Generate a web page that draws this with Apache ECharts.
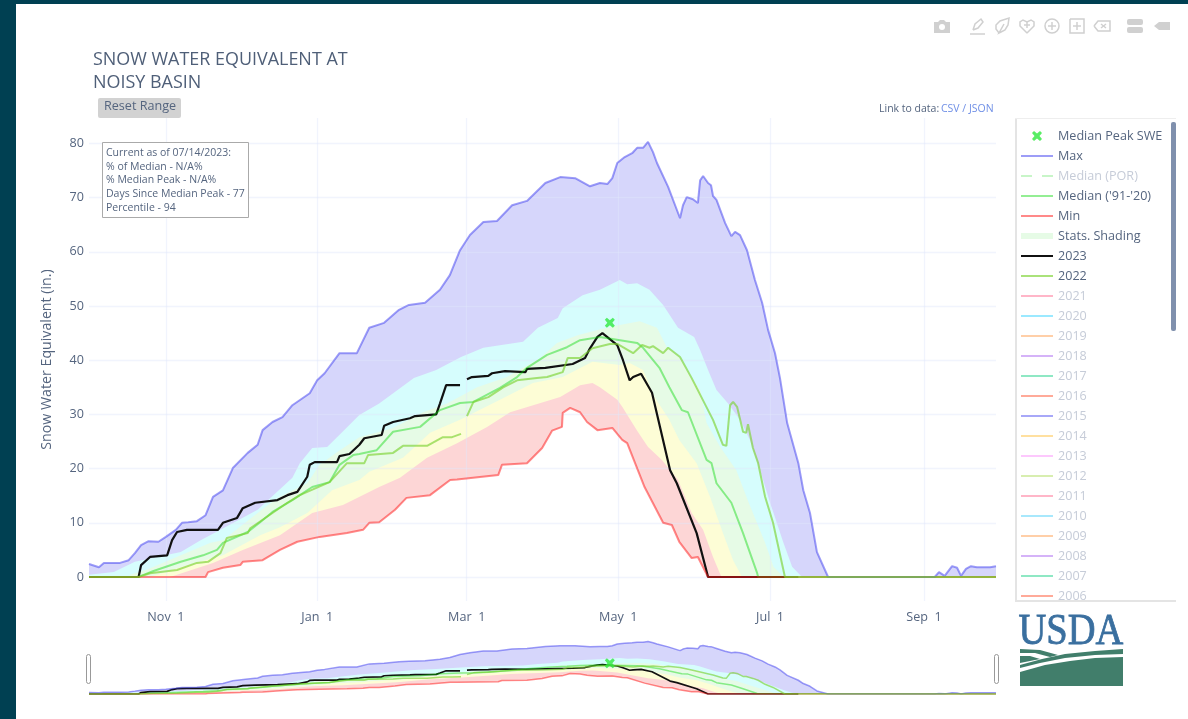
<!DOCTYPE html>
<html><head><meta charset="utf-8">
<style>html,body{margin:0;padding:0;background:#fff;overflow:hidden}#c{width:1188px;height:719px}</style>
<script src="https://cdn.jsdelivr.net/npm/echarts@6/dist/echarts.min.js"></script>
</head><body><div id="c"></div>
<script>
// Values: [day of water year (0 = Oct 1), snow water equivalent in inches]
const maxLine=[[0,2.4],[4,1.8],[6,2.6],[12.5,2.6],[16,3.1],[18.5,4.4],[21,5.9],[24,6.6],[28,6.5],[31,7.4],[35,8.7],[37.5,10],[40,10.1],[43.5,10.3],[47,11.4],[50,14.8],[54,16],[58,20.1],[64,22.9],[68,24.4],[70,27.1],[74,28.6],[78,29.5],[82,31.7],[89,33.9],[92,36.3],[95,37.6],[101,41.3],[108,41.3],[113,46],[119,46.9],[125,49.3],[129,50.2],[135.5,50.6],[141.5,53],[145.5,55.7],[149.6,60.3],[153.6,63.1],[159,65.5],[164.5,65.7],[170.6,68.6],[176.6,69.4],[184,72.7],[190,73.8],[196,73.6],[202,72.1],[206,72.7],[209,72.5],[211,73.6],[213,76.4],[216,77.5],[219,78.2],[221,79.2],[223.4,79.2],[225.4,80.3],[227.4,78.4],[229,76.4],[233.5,72],[238.3,66.2],[239.5,68.6],[241,70.1],[243.5,69.7],[245.5,69],[246.4,73.2],[247.6,74],[249.6,72.7],[250.8,72.3],[251.6,70.3],[253,69.6],[256.5,65.3],[259,62.9],[260.5,63.7],[262.5,63.1],[265.3,60.3],[268.5,54.8],[271.4,50.6],[273.8,45.6],[276.6,41.3],[278.6,36.7],[281.5,28.4],[286,21],[288,16],[290.7,11.8],[293.5,4.6],[298,0],[341,0],[342.7,0.9],[345,0.2],[348,2],[350,1.7],[351.6,0.2],[353.6,1.5],[355.6,2],[358,1.8],[363.3,1.8],[365.7,2]];
const band90=[[0,0.4],[10,0.9],[18.5,2.8],[37,4.6],[45,6.8],[53,8.7],[68,12.4],[82,18.3],[85,21],[90,23.8],[96,24],[100,25.8],[109,29.9],[117,32],[131,36.7],[140,38.2],[150,40.6],[159,42.3],[175,43.4],[181,46],[189,47.8],[191,49.6],[199,52],[206,53],[214,54.8],[217,54],[221,54.2],[226,53],[231.5,50.2],[237.5,46],[244,44.3],[246.4,41.9],[249.6,38.2],[253,34.5],[257.7,32],[262.5,29],[266.5,25.3],[270.6,19.7],[274.6,13.7],[280,6.3],[283.5,1.9],[287.5,0]];
const band70=[[16.5,0.4],[23,1.3],[37,4],[49,6.3],[54,6.8],[68,11.8],[76,14.6],[80,15.5],[88,17.3],[93,20.7],[100,23],[109,25.8],[122.6,27.5],[134.7,30.4],[144.4,32],[156.5,35],[168.5,36.9],[182,40.4],[188.7,43.2],[197,44.6],[205,45.6],[214,46.5],[222,47.2],[229,46],[233,42.4],[238,40.6],[243,36.7],[246.4,34.5],[249,28.4],[254.5,24],[261,19.7],[266,13.7],[272.6,6.3],[276,1.9],[280,0]];
const band50=[[24.6,0],[37,1.8],[54,4],[69,7.7],[77,9.2],[88,11.8],[98,16],[109,17.9],[113,19.4],[126.6,22],[137.5,26.6],[149.6,29],[165.7,32.7],[179,35.8],[191,36.9],[203,39.7],[214,39.1],[218,39.5],[223.4,38.2],[228,33.2],[234,29],[238,25.3],[245,21],[250.4,14.8],[255.6,8.1],[259.7,3.1],[263.3,0]];
const band30=[[32.7,0],[50,2.6],[62,5],[77,7.7],[90,11.8],[102.4,13.3],[117,16.6],[125.4,18.3],[136.3,22],[148.4,24.7],[160.5,27.7],[169.8,30.4],[190,33.2],[198,35.4],[203,35.8],[206,35],[213,32.7],[215,31.4],[221,27],[225.4,24],[231,21.6],[237.5,17.9],[243,11.8],[247.6,8.7],[251.6,3.7],[255,0]];
const minLine=[[0,0],[47,0],[48,0.9],[54,1.7],[61,2.2],[62,2.8],[70,3.1],[77,5],[84,6.5],[93,7.4],[104,8.1],[110.5,8.7],[113,10],[117,10.1],[123.4,12.4],[128,14.6],[137.5,15.1],[145.6,17.9],[148.4,18],[165,18.8],[166.5,20.7],[176.6,21],[182.7,23.8],[186.7,27],[190.7,27.7],[191,30.3],[194,31.2],[198,30.4],[200.8,28.6],[205,27.1],[211,27.5],[215,25.3],[217,24.7],[224,16.6],[231.5,10],[235,9.6],[238,6.5],[243,3.5],[245.5,3.7],[249.6,0],[365.7,0]];
const medianLine=[[0,0],[20,0],[22,0.4],[26,1.1],[37,2.8],[46,4],[51.6,5],[54,6.3],[64,8.3],[69,10.1],[74,12],[82,14.2],[90,16.6],[97,17.5],[101,20.7],[106.5,22.5],[109,22.7],[116,23.4],[122.6,26.8],[133.5,27.7],[141.5,30.8],[149.6,32.1],[155,32.3],[165.7,34.9],[172.6,36.9],[176.6,38.6],[184.7,41],[192.7,42.4],[198,43.7],[206,44.3],[221,43.2],[223.4,42.3],[230,38.6],[234,35],[239,30.8],[241.5,30.4],[249,21.6],[251,21],[253,17.3],[259,13.7],[263.7,8.1],[269.4,0.7],[269.8,0],[365.7,0]];
const line2023=[[0,0],[20,0],[21,2.2],[24.6,3.7],[31.5,4],[33.5,6.8],[35.5,8.3],[39.5,8.7],[52,8.7],[54,10],[59.7,10.9],[62,12.7],[67,13.7],[76,14.2],[80,15.1],[84,15.7],[88,18.5],[89,20.7],[91,21.2],[100,21.2],[101,22.3],[105,22.7],[109,24.4],[111,25.6],[118,26.2],[119,27.9],[122.6,28.6],[129.4,29.3],[131.5,29.7],[140,30],[141.5,32],[144,35.4],[149.6,35.4],[151,'-'],[152.4,36.5],[154.4,36.9],[161,37.1],[162.5,37.6],[167.7,38],[176,37.8],[176.6,38.4],[184,38.6],[184.7,38.9],[195,39.3],[200,40.4],[202,42.2],[205,44.3],[207,45],[213,42.8],[215.3,40],[218,36.3],[219.4,36.9],[222.6,37.5],[227,34],[234.3,19.7],[237,17.3],[245,8.1],[249.6,0],[286,0]];
const line2022=[[0,0],[20,0],[24.6,0.7],[35.5,1.3],[43.5,2.6],[48,2.8],[53,4.4],[55.6,7.2],[64,8.1],[65,9],[80,13.7],[85,15.1],[97,17.5],[104,21],[111,21],[112.5,22.5],[122.6,22.9],[126.6,24.2],[136.3,24.2],[142.7,25.8],[146.4,25.8],[150,26.4],[151,'-'],[152.4,29.7],[155,32.3],[161,33.2],[167,35],[172.6,36.3],[180.6,36.7],[184.7,36.9],[191,37.8],[193,40.4],[198,40.4],[203,42.2],[210,43],[213,43],[219.4,41.3],[223,42.8],[226,42.3],[227.4,42.6],[231.5,41.3],[233.5,42.3],[238.3,40.6],[243,36.7],[251.6,29],[255.6,24.4],[257,24.2],[258.5,31.7],[259.7,32.3],[261.3,31.4],[263.7,26.8],[265,26.6],[265.7,28.2],[267.7,23.8],[269.8,21],[272.6,14.8],[275.8,10],[280.6,0],[365.7,0]];
const medianPeak=[[210,46.9]];
const xTickDays=[31,92,152.3,213.4,274.6,336.7];
const xTickLabels=['Nov  1','Jan  1','Mar  1','May  1','Jul  1','Sep  1'];
const yTicks=[0,10,20,30,40,50,60,70,80];
const hiddenYears=['2021','2020','2019','2018','2017','2016','2015','2014','2013','2012','2011','2010','2009','2008','2007','2006'];
const hiddenColors=['#ffb6c8','#9be9ff','#ffcfa8','#d5b3f8','#8fe8c4','#ffaa99','#a8a8f8','#ffe0a0','#fdc8fd','#d8eeb0','#ffb6c8','#a8e8fc','#ffcfa8','#d5b3f8','#8fe8c4','#ffaa99'];

const FONT='"Open Sans"', TXT='#55657f', DIM='#c6ccd8';
const XICON='path://M2 0L5 2.5L8 0L10 2L7.5 5L10 8L8 10L5 7.5L2 10L0 8L2.5 5L0 2Z';
const LINEICON='path://M0 0H32V2H0Z';
const DASHICON='path://M0 0H11V2H0Z M21 0H32V2H21Z';

function fills(ax,suffix){
  const f=(name,data,color)=>({name:name,type:'line',xAxisIndex:ax,yAxisIndex:ax,data:data,symbol:'none',z:1,silent:true,
    lineStyle:{width:0},itemStyle:{color:color},areaStyle:{color:color,opacity:1}});
  return [f('fillMax'+suffix,maxLine,'#d6d6fb'),f('fill90'+suffix,band90,'#d6fdfd'),
    f(ax?'Shade mini':'Stats. Shading',band70,'#e6fbe6'),f('fill50'+suffix,band50,'#fdfdd6'),
    f('fill30'+suffix,band30,'#fdd6d6'),f('fillMin'+suffix,minLine,'#ffffff')];
}
function lines(ax,w,suffix){
  const l=(name,data,color,width,z)=>({name:name+suffix,type:'line',xAxisIndex:ax,yAxisIndex:ax,data:data,symbol:'none',z:z,
    connectNulls:false,itemStyle:{color:color},lineStyle:{color:color,width:width}});
  return [l('2023',line2023,'#111111',w+0.2,3),
    l("Median ('91-'20)",medianLine,'rgba(0,215,0,0.42)',w,4),
    l('Min',minLine,'rgba(255,20,20,0.5)',w,4),
    l('Max',maxLine,'rgba(60,60,240,0.5)',w,4),
    l('2022',line2022,'rgba(125,210,50,0.65)',w,5)];
}
const peak=(ax,suffix)=>({name:'Median Peak SWE'+suffix,type:'scatter',xAxisIndex:ax,yAxisIndex:ax,data:medianPeak,symbol:XICON,symbolSize:10,z:6,itemStyle:{color:'#2fe83f'}});

const ghosts=hiddenYears.map((y,i)=>({name:y,type:'line',data:[],symbol:'none',itemStyle:{color:hiddenColors[i]},lineStyle:{color:hiddenColors[i],width:2}}));
ghosts.push({name:'Median (POR)',type:'line',data:[],symbol:'none',itemStyle:{color:'#c8f5c8'},lineStyle:{color:'#c8f5c8',width:2}});

const legendData=[
 {name:'Median Peak SWE',icon:XICON},{name:'Max',icon:LINEICON},{name:'Median (POR)',icon:DASHICON,textStyle:{color:DIM}},{name:"Median ('91-'20)",icon:LINEICON},{name:'Min',icon:LINEICON},
 {name:'Stats. Shading',icon:'path://M0 0H32V6H0Z',itemStyle:{color:'#e6fbe6'}},{name:'2023',icon:LINEICON},{name:'2022',icon:LINEICON}
].concat(hiddenYears.map(y=>({name:y,icon:LINEICON,textStyle:{color:DIM}})));

const Z=10;
const rect=(x,y,w,h,fill,r)=>({type:'rect',z:Z,silent:true,shape:{x:x,y:y,width:w,height:h,r:r||0},style:{fill:fill}});
const txt=(x,y,t,size,color)=>({type:'text',z:Z,silent:true,x:x,y:y,style:{text:t,font:size+'px '+FONT,fill:color,verticalAlign:'middle'}});
const ICON='#d0d0d0';
const off=(pts,x,y)=>pts.map(p=>[p[0]+x,p[1]+y]);
const pl=(pts,x,y)=>({type:'polyline',z:Z,silent:true,shape:{points:off(pts,x,y)},style:{fill:'none',stroke:ICON,lineWidth:1.5}});
const pg=(pts,x,y,fill)=>({type:'polygon',z:Z,silent:true,shape:{points:off(pts,x,y)},style:{fill:fill||ICON}});
const ring=(x,y,r)=>({type:'circle',z:Z,silent:true,shape:{cx:x,cy:y,r:r},style:{fill:'none',stroke:ICON,lineWidth:1.5}});

const graphics=[
 rect(0,0,1188,4,'#004052'),rect(0,0,16,719,'#004052'),
 // mode bar
 pg([[-8,-5],[-4,-5],[-2,-7],[2,-7],[4,-5],[8,-5],[8,6],[-8,6]],942,27),
 {type:'circle',z:Z,silent:true,shape:{cx:942,cy:27,r:3},style:{fill:'#fff'}},
 pl([[-4,4],[-2,-2],[4,-7],[6,-4],[1,2],[-4,4]],977,26),pl([[-7,8],[8,8]],977,26),
 pl([[-3,7],[-6,3],[-6,-1],[-2,-5],[7,-8],[6,-1],[3,4],[-1,6],[-3,7],[2,-2]],1002,26),
 pl([[0,7],[-7,0],[-7,-4],[-4,-6],[0,-4],[4,-6],[7,-4],[7,0],[0,7]],1027,26),pl([[-3,-1],[3,-1]],1027,26),pl([[0,-4],[0,2]],1027,26),
 ring(1052,26,7),pl([[-4,0],[4,0]],1052,26),pl([[0,-4],[0,4]],1052,26),
 pl([[-7,-7],[7,-7],[7,7],[-7,7],[-7,-7]],1077,26),pl([[-4,0],[4,0]],1077,26),pl([[0,-4],[0,4]],1077,26),
 pl([[-8,0],[-4,-5],[8,-5],[8,5],[-4,5],[-8,0]],1102,26),pl([[-1,-2],[4,2]],1102,26),pl([[4,-2],[-1,2]],1102,26),
 rect(1127,19,16,6,ICON,2),rect(1127,27,16,6,ICON,2),
 pg([[-8,0],[-3,-4],[8,-4],[8,4],[-3,4]],1162,26),
 // reset button
 rect(98,98,83,20,'#d2d2d2',2),
 txt(104,106.5,'Reset Range',12.6,TXT),
 // data links
 txt(879,109,'Link to data: ',10.5,TXT),
 txt(941,109,'CSV / JSON',10.5,'#6f8fe6'),
 // status box
 {type:'rect',z:Z,silent:true,shape:{x:102.5,y:142.5,width:146,height:75},style:{fill:'#fff',stroke:'#aaaaaa',lineWidth:1}},
 txt(106,153,'Current as of 07/14/2023:',10.5,TXT),
 txt(106,166.7,'% of Median - N/A%',10.5,TXT),
 txt(106,180.4,'% Median Peak - N/A%',10.5,TXT),
 txt(106,194.1,'Days Since Median Peak - 77',10.5,TXT),
 txt(106,207.8,'Percentile - 94',10.5,TXT),
 // legend frame and clip
 rect(1016,601,160,12,'#ffffff'),
 rect(1015,118,2,483,'#e4e4e4'),rect(1015,118,161,1,'#eeeeee'),rect(1015,600,161,2,'#e4e4e4'),
 rect(1171,122,5,209,'#8090ad',2),
 // range-slider handles
 {type:'rect',z:Z,silent:true,shape:{x:86.5,y:654.5,width:4,height:29,r:2},style:{fill:'#fff',stroke:'#999',lineWidth:1}},
 {type:'rect',z:Z,silent:true,shape:{x:994.5,y:654.5,width:4,height:29,r:2},style:{fill:'#fff',stroke:'#999',lineWidth:1}},
 // USDA mark
 {type:'text',z:Z,silent:true,x:1018.5,y:655,scaleY:1.15,style:{text:'USDA',font:'38.5px "Liberation Serif"',fill:'#3a6f9f',stroke:'#3a6f9f',lineWidth:0.7,verticalAlign:'bottom'}},
 {type:'polygon',z:Z,silent:true,shape:{points:[[1020,672],[1045,665],[1070,661],[1095,658],[1123,657],[1123,686],[1020,686]]},style:{fill:'#417e6b'}},
 {type:'polygon',z:Z,silent:true,shape:{points:[[1020,665],[1042,659],[1065,654],[1095,651],[1123,649],[1123,654],[1095,655],[1065,658],[1040,663],[1020,668]]},style:{fill:'#417e6b'}},
 {type:'polygon',z:Z,silent:true,shape:{points:[[1020,649],[1040,650],[1058,655],[1050,657],[1035,653],[1020,653]]},style:{fill:'#417e6b'}},
 {type:'polygon',z:Z,silent:true,shape:{points:[[1020,656],[1030,656],[1040,659],[1020,663]]},style:{fill:'#417e6b'}}
];

const option={
 animation:false,backgroundColor:'#ffffff',textStyle:{fontFamily:FONT},
 title:{text:'SNOW WATER EQUIVALENT AT\nNOISY BASIN',left:93,top:48,padding:0,textStyle:{fontFamily:FONT,fontSize:17.95,fontWeight:'normal',color:'#4f5f78',lineHeight:23}},
 grid:[{left:89,top:118,width:907,height:483},{left:89,top:639,width:907,height:55}],
 xAxis:[{type:'value',gridIndex:0,min:0,max:365.7,z:2,axisLine:{show:false},
    axisTick:{show:false,customValues:xTickDays},splitLine:{show:true,lineStyle:{color:'rgba(225,230,250,0.45)',width:1.3}},
    axisLabel:{customValues:xTickDays,margin:10,fontFamily:FONT,fontSize:12.6,color:TXT,formatter:v=>xTickLabels[xTickDays.indexOf(v)]||''}},
   {type:'value',gridIndex:1,min:0,max:365.7,show:false,splitLine:{show:false}}],
 yAxis:[{type:'value',gridIndex:0,min:-4.43,max:84.7,z:2,axisLine:{show:false},
    axisTick:{show:false,customValues:yTicks},splitLine:{show:true,lineStyle:{color:'rgba(225,230,250,0.45)',width:1.3}},
    axisLabel:{customValues:yTicks,margin:5,padding:[2,0,0,0],fontFamily:FONT,fontSize:12.6,color:TXT},
    name:'Snow Water Equivalent (in.)',nameLocation:'middle',nameGap:35,nameTextStyle:{fontFamily:FONT,fontSize:14.2,color:TXT}},
   {type:'value',gridIndex:1,min:0,max:84,show:false,splitLine:{show:false}}],
 legend:{show:true,orient:'vertical',left:1021,top:129,padding:0,itemWidth:32,itemHeight:10,itemGap:6,selectedMode:false,
   textStyle:{fontFamily:FONT,fontSize:12.6,color:TXT,lineHeight:14},data:legendData},
 series:[].concat(fills(0,''),lines(0,2,''),[peak(0,'')],ghosts,fills(1,' mini'),lines(1,1.5,' mini'),[peak(1,' mini')]),
 graphic:{elements:graphics}
};
echarts.init(document.getElementById('c'),null,{renderer:'canvas'}).setOption(option);
</script></body></html>
